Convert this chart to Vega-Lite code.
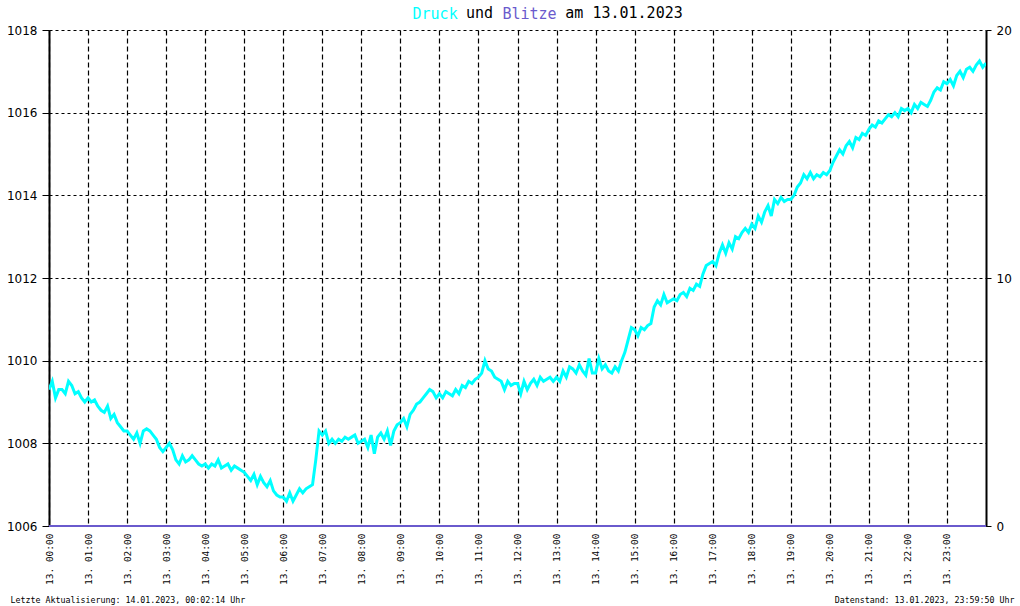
{
"$schema": "https://vega.github.io/schema/vega-lite/v6.json",
"width": 937, "height": 496,
"autosize": {"type": "none"},
"padding": {"left": 49, "top": 30, "right": 34, "bottom": 80},
"background": "white",
"config": {"view": {"stroke": null}, "font": "DejaVu Sans Mono"},
"title": {"text": "und\u00a0\u00a0\u00a0\u00a0\u00a0\u00a0\u00a0\u00a0am 13.01.2023", "anchor": "start", "frame": "group", "dx": 417, "dy": 39, "font": "DejaVu Sans Mono", "fontSize": 15, "fontWeight": "normal", "color": "black", "baseline": "alphabetic", "offset": 12},
"datasets": {
"druck": [
{"m":0,"p":1009.3},{"m":5,"p":1009.5},{"m":10,"p":1009.1},{"m":15,"p":1009.3},{"m":20,"p":1009.3},{"m":25,"p":1009.2},{"m":30,"p":1009.5},{"m":35,"p":1009.4},{"m":40,"p":1009.2},{"m":45,"p":1009.25},{"m":50,"p":1009.1},{"m":55,"p":1009.0},
{"m":60,"p":1009.1},{"m":65,"p":1009.0},{"m":70,"p":1009.05},{"m":75,"p":1008.9},{"m":80,"p":1008.8},{"m":85,"p":1008.75},{"m":90,"p":1008.9},{"m":95,"p":1008.6},{"m":100,"p":1008.7},{"m":105,"p":1008.5},{"m":110,"p":1008.4},{"m":115,"p":1008.3},
{"m":120,"p":1008.3},{"m":125,"p":1008.2},{"m":130,"p":1008.1},{"m":135,"p":1008.25},{"m":140,"p":1008.0},{"m":145,"p":1008.3},{"m":150,"p":1008.35},{"m":155,"p":1008.3},{"m":160,"p":1008.2},{"m":165,"p":1008.1},{"m":170,"p":1007.9},{"m":175,"p":1007.8},
{"m":180,"p":1007.9},{"m":185,"p":1008.0},{"m":190,"p":1007.85},{"m":195,"p":1007.6},{"m":200,"p":1007.5},{"m":205,"p":1007.7},{"m":210,"p":1007.55},{"m":215,"p":1007.6},{"m":220,"p":1007.7},{"m":225,"p":1007.6},{"m":230,"p":1007.5},{"m":235,"p":1007.45},
{"m":240,"p":1007.5},{"m":245,"p":1007.4},{"m":250,"p":1007.5},{"m":255,"p":1007.45},{"m":260,"p":1007.6},{"m":265,"p":1007.4},{"m":270,"p":1007.45},{"m":275,"p":1007.5},{"m":280,"p":1007.35},{"m":285,"p":1007.45},{"m":290,"p":1007.4},{"m":295,"p":1007.35},
{"m":300,"p":1007.3},{"m":305,"p":1007.2},{"m":310,"p":1007.1},{"m":315,"p":1007.25},{"m":320,"p":1007.0},{"m":325,"p":1007.2},{"m":330,"p":1007.05},{"m":335,"p":1006.95},{"m":340,"p":1007.1},{"m":345,"p":1006.85},{"m":350,"p":1006.75},{"m":355,"p":1006.7},
{"m":360,"p":1006.7},{"m":365,"p":1006.6},{"m":370,"p":1006.8},{"m":375,"p":1006.6},{"m":380,"p":1006.75},{"m":385,"p":1006.9},{"m":390,"p":1006.8},{"m":395,"p":1006.9},{"m":400,"p":1006.95},{"m":405,"p":1007.0},{"m":410,"p":1007.6},{"m":415,"p":1008.3},
{"m":420,"p":1008.2},{"m":425,"p":1008.3},{"m":430,"p":1008.0},{"m":435,"p":1008.1},{"m":440,"p":1008.0},{"m":445,"p":1008.1},{"m":450,"p":1008.05},{"m":455,"p":1008.15},{"m":460,"p":1008.1},{"m":465,"p":1008.15},{"m":470,"p":1008.2},{"m":475,"p":1008.0},
{"m":480,"p":1008.05},{"m":485,"p":1008.1},{"m":490,"p":1007.9},{"m":495,"p":1008.2},{"m":500,"p":1007.75},{"m":505,"p":1008.15},{"m":510,"p":1008.25},{"m":515,"p":1008.1},{"m":520,"p":1008.3},{"m":525,"p":1007.95},{"m":530,"p":1008.3},{"m":535,"p":1008.45},
{"m":540,"p":1008.5},{"m":545,"p":1008.6},{"m":550,"p":1008.4},{"m":555,"p":1008.7},{"m":560,"p":1008.8},{"m":565,"p":1008.95},{"m":570,"p":1009.0},{"m":575,"p":1009.1},{"m":580,"p":1009.2},{"m":585,"p":1009.3},{"m":590,"p":1009.25},{"m":595,"p":1009.1},
{"m":600,"p":1009.2},{"m":605,"p":1009.1},{"m":610,"p":1009.25},{"m":615,"p":1009.2},{"m":620,"p":1009.15},{"m":625,"p":1009.3},{"m":630,"p":1009.2},{"m":635,"p":1009.4},{"m":640,"p":1009.35},{"m":645,"p":1009.5},{"m":650,"p":1009.45},{"m":655,"p":1009.55},
{"m":660,"p":1009.6},{"m":665,"p":1009.7},{"m":670,"p":1010.0},{"m":675,"p":1009.8},{"m":680,"p":1009.75},{"m":685,"p":1009.6},{"m":690,"p":1009.55},{"m":695,"p":1009.5},{"m":700,"p":1009.3},{"m":705,"p":1009.5},{"m":710,"p":1009.4},{"m":715,"p":1009.45},
{"m":720,"p":1009.45},{"m":725,"p":1009.2},{"m":730,"p":1009.5},{"m":735,"p":1009.3},{"m":740,"p":1009.45},{"m":745,"p":1009.55},{"m":750,"p":1009.4},{"m":755,"p":1009.6},{"m":760,"p":1009.5},{"m":765,"p":1009.55},{"m":770,"p":1009.6},{"m":775,"p":1009.5},
{"m":780,"p":1009.6},{"m":785,"p":1009.5},{"m":790,"p":1009.75},{"m":795,"p":1009.6},{"m":800,"p":1009.85},{"m":805,"p":1009.8},{"m":810,"p":1009.7},{"m":815,"p":1009.9},{"m":820,"p":1009.75},{"m":825,"p":1009.65},{"m":830,"p":1010.05},{"m":835,"p":1009.7},
{"m":840,"p":1009.7},{"m":845,"p":1010.05},{"m":850,"p":1009.8},{"m":855,"p":1009.9},{"m":860,"p":1009.75},{"m":865,"p":1009.7},{"m":870,"p":1009.85},{"m":875,"p":1009.75},{"m":880,"p":1010.0},{"m":885,"p":1010.2},{"m":890,"p":1010.5},{"m":895,"p":1010.8},
{"m":900,"p":1010.75},{"m":905,"p":1010.6},{"m":910,"p":1010.8},{"m":915,"p":1010.75},{"m":920,"p":1010.85},{"m":925,"p":1010.9},{"m":930,"p":1011.3},{"m":935,"p":1011.45},{"m":940,"p":1011.35},{"m":945,"p":1011.6},{"m":950,"p":1011.4},{"m":955,"p":1011.45},
{"m":960,"p":1011.5},{"m":965,"p":1011.45},{"m":970,"p":1011.6},{"m":975,"p":1011.65},{"m":980,"p":1011.55},{"m":985,"p":1011.75},{"m":990,"p":1011.7},{"m":995,"p":1011.85},{"m":1000,"p":1011.8},{"m":1005,"p":1012.1},{"m":1010,"p":1012.3},{"m":1015,"p":1012.35},
{"m":1020,"p":1012.4},{"m":1025,"p":1012.3},{"m":1030,"p":1012.6},{"m":1035,"p":1012.8},{"m":1040,"p":1012.6},{"m":1045,"p":1012.85},{"m":1050,"p":1012.7},{"m":1055,"p":1013.0},{"m":1060,"p":1012.95},{"m":1065,"p":1013.1},{"m":1070,"p":1013.2},{"m":1075,"p":1013.1},
{"m":1080,"p":1013.3},{"m":1085,"p":1013.2},{"m":1090,"p":1013.5},{"m":1095,"p":1013.35},{"m":1100,"p":1013.6},{"m":1105,"p":1013.75},{"m":1110,"p":1013.5},{"m":1115,"p":1013.9},{"m":1120,"p":1013.8},{"m":1125,"p":1013.95},{"m":1130,"p":1013.85},{"m":1135,"p":1013.9},
{"m":1140,"p":1013.9},{"m":1145,"p":1014.0},{"m":1150,"p":1014.2},{"m":1155,"p":1014.3},{"m":1160,"p":1014.5},{"m":1165,"p":1014.4},{"m":1170,"p":1014.55},{"m":1175,"p":1014.4},{"m":1180,"p":1014.5},{"m":1185,"p":1014.45},{"m":1190,"p":1014.55},{"m":1195,"p":1014.5},
{"m":1200,"p":1014.6},{"m":1205,"p":1014.8},{"m":1210,"p":1014.95},{"m":1215,"p":1015.1},{"m":1220,"p":1015.0},{"m":1225,"p":1015.2},{"m":1230,"p":1015.3},{"m":1235,"p":1015.15},{"m":1240,"p":1015.4},{"m":1245,"p":1015.35},{"m":1250,"p":1015.5},{"m":1255,"p":1015.45},
{"m":1260,"p":1015.6},{"m":1265,"p":1015.7},{"m":1270,"p":1015.65},{"m":1275,"p":1015.8},{"m":1280,"p":1015.75},{"m":1285,"p":1015.85},{"m":1290,"p":1015.95},{"m":1295,"p":1015.9},{"m":1300,"p":1016.0},{"m":1305,"p":1015.9},{"m":1310,"p":1016.1},{"m":1315,"p":1016.05},
{"m":1320,"p":1016.1},{"m":1325,"p":1016.0},{"m":1330,"p":1016.2},{"m":1335,"p":1016.1},{"m":1340,"p":1016.25},{"m":1345,"p":1016.2},{"m":1350,"p":1016.15},{"m":1355,"p":1016.3},{"m":1360,"p":1016.5},{"m":1365,"p":1016.6},{"m":1370,"p":1016.55},{"m":1375,"p":1016.75},
{"m":1380,"p":1016.7},{"m":1385,"p":1016.8},{"m":1390,"p":1016.65},{"m":1395,"p":1016.9},{"m":1400,"p":1017.0},{"m":1405,"p":1016.85},{"m":1410,"p":1017.05},{"m":1415,"p":1017.1},{"m":1420,"p":1017.0},{"m":1425,"p":1017.15},{"m":1430,"p":1017.25},{"m":1435,"p":1017.1},
{"m":1440,"p":1017.2}
],
"blitze": [
{"m":0,"n":0},{"m":60,"n":0},{"m":120,"n":0},{"m":180,"n":0},{"m":240,"n":0},{"m":300,"n":0},{"m":360,"n":0},{"m":420,"n":0},{"m":480,"n":0},{"m":540,"n":0},{"m":600,"n":0},{"m":660,"n":0},{"m":720,"n":0},{"m":780,"n":0},{"m":840,"n":0},{"m":900,"n":0},{"m":960,"n":0},{"m":1020,"n":0},{"m":1080,"n":0},{"m":1140,"n":0},{"m":1200,"n":0},{"m":1260,"n":0},{"m":1320,"n":0},{"m":1380,"n":0},{"m":1440,"n":0}
]
},
"layer": [
{
"data": {"name": "druck"},
"mark": {"type": "line", "color": "#00ffff", "strokeWidth": 3, "clip": true},
"encoding": {
"x": {"field": "m", "type": "quantitative", "scale": {"domain": [0, 1440], "nice": false, "zero": false},
 "axis": {"orient": "bottom", "values": [0,60,120,180,240,300,360,420,480,540,600,660,720,780,840,900,960,1020,1080,1140,1200,1260,1320,1380],
  "labelExpr": "'13. ' + (datum.value/60 < 10 ? '0' : '') + (datum.value/60) + ':00'",
  "labelAngle": -90, "labelAlign": "right", "labelBaseline": "middle", "labelFont": "DejaVu Sans Mono", "labelFontSize": 9.5, "labelColor": "black", "labelPadding": 7, "labelFlush": false, "labelOverlap": false, "labelBound": false,
  "ticks": false, "grid": true, "gridColor": "black", "gridDash": [5, 3], "gridWidth": 1.2, "gridOpacity": 1,
  "domain": true, "domainColor": "black", "domainWidth": 1,
  "title": "Datenstand: 13.01.2023, 23:59:50 Uhr", "titleX": 965, "titleY": 76, "titleAlign": "right", "titleBaseline": "alphabetic", "titleFont": "DejaVu Sans Mono", "titleFontSize": 8.3, "titleFontWeight": "normal", "titleColor": "black"}},
"y": {"field": "p", "type": "quantitative", "scale": {"domain": [1006, 1018], "nice": false, "zero": false},
 "axis": {"orient": "left", "values": [1006,1008,1010,1012,1014,1016,1018], "format": "d",
  "grid": true, "gridColor": "black", "gridDash": [3, 3], "gridWidth": 1.2, "gridOpacity": 1,
  "domainColor": "black", "domainWidth": 2, "tickColor": "black", "tickSize": 7, "tickWidth": 1,
  "labelFont": "DejaVu Sans", "labelFontSize": 12, "labelColor": "black", "labelPadding": 5,
  "title": "Druck", "titleColor": "#00ffff", "titleFont": "DejaVu Sans Mono", "titleFontSize": 15, "titleFontWeight": "normal", "titleAngle": 0, "titleX": 385.6, "titleY": -12, "titleAlign": "center", "titleBaseline": "alphabetic"}}
}
},
{
"data": {"name": "blitze"},
"mark": {"type": "line", "color": "#6a5acd", "strokeWidth": 2, "clip": false},
"encoding": {
"x": {"field": "m", "type": "quantitative", "scale": {"domain": [0, 1440], "nice": false, "zero": false},
 "axis": {"orient": "top", "domain": false, "ticks": false, "labels": false, "grid": false,
  "title": "Letzte Aktualisierung: 14.01.2023, 00:02:14 Uhr", "titleX": -39, "titleY": 572, "titleAlign": "left", "titleBaseline": "alphabetic", "titleFont": "DejaVu Sans Mono", "titleFontSize": 8.3, "titleFontWeight": "normal", "titleColor": "black"}},
"y": {"field": "n", "type": "quantitative", "scale": {"domain": [0, 20], "nice": false},
 "axis": {"orient": "right", "values": [0, 10, 20], "grid": false,
  "domainColor": "black", "domainWidth": 2, "tickColor": "black", "tickSize": 5, "tickWidth": 1,
  "labelFont": "DejaVu Sans", "labelFontSize": 12, "labelColor": "black", "labelPadding": 5,
  "title": "Blitze", "titleColor": "#6a5acd", "titleFont": "DejaVu Sans Mono", "titleFontSize": 15, "titleFontWeight": "normal", "titleAngle": 0, "titleX": -457, "titleY": -12, "titleAlign": "center", "titleBaseline": "alphabetic"}}
}
}
],
"resolve": {"scale": {"y": "independent"}, "axis": {"x": "independent", "y": "independent"}}
}
